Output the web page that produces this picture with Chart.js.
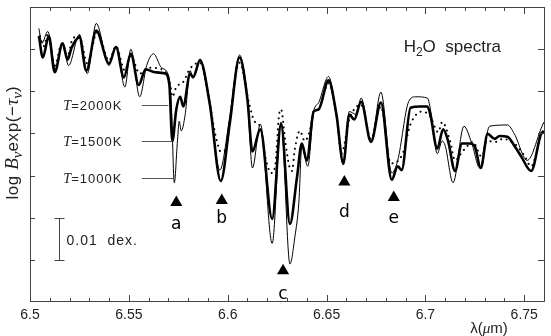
<!DOCTYPE html>
<html><head><meta charset="utf-8">
<script src="https://cdn.jsdelivr.net/npm/chart.js@4/dist/chart.umd.min.js"></script>
<style>html,body{margin:0;padding:0;background:#fff;overflow:hidden}#wrap{width:551px;height:336px}</style>
</head><body><div id="wrap"><canvas id="c" width="551" height="336"></canvas></div>
<script>
// wavelength (micron) , log B exp(-tau) in units of 0.01 dex (arbitrary zero)
const spectrum1000K = [[6.5045,6.49],[6.506,6.14],[6.509,6.42],[6.513,5.52],[6.5165,6.14],[6.5195,5.61],[6.525,6.35],[6.529,5.42],[6.5335,6.61],[6.54,5.61],[6.5435,6.07],[6.548,5.10],[6.551,6.00],[6.5555,4.87],[6.559,5.61],[6.5625,5.89],[6.5665,5.56],[6.57,5.38],[6.5715,4.68],[6.573,2.83],[6.5745,3.76],[6.5755,4.29],[6.5765,4.06],[6.5785,4.45],[6.581,5.49],[6.5825,5.33],[6.586,5.77],[6.591,4.68],[6.596,3.13],[6.601,4.38],[6.606,5.86],[6.61,4.80],[6.6125,3.18],[6.6165,4.22],[6.6225,1.39],[6.627,4.27],[6.6315,0.90],[6.634,1.55],[6.636,2.36],[6.6375,3.69],[6.6405,3.22],[6.6435,4.52],[6.646,4.73],[6.651,5.35],[6.655,4.45],[6.6585,3.25],[6.6615,4.52],[6.665,4.45],[6.6675,4.84],[6.6725,3.80],[6.6775,4.98],[6.683,3.06],[6.686,3.36],[6.6915,4.75],[6.695,4.87],[6.701,4.84],[6.703,4.45],[6.706,3.52],[6.7085,3.82],[6.71,3.71],[6.714,2.83],[6.7195,4.17],[6.7235,3.76],[6.7275,3.18],[6.7325,4.17],[6.7415,4.20],[6.745,3.99],[6.7515,3.36],[6.759,4.17],[6.76,4.27]];
const spectrum1500K = [[6.5045,6.31],[6.5065,5.80],[6.5095,6.31],[6.5125,5.45],[6.5165,6.14],[6.519,5.75],[6.521,6.03],[6.525,6.28],[6.5285,5.49],[6.5335,6.44],[6.54,5.66],[6.5435,6.05],[6.5475,5.33],[6.551,5.89],[6.555,5.15],[6.5585,5.52],[6.5635,5.45],[6.5685,5.42],[6.5705,5.15],[6.572,3.82],[6.574,4.57],[6.576,4.87],[6.5775,4.64],[6.581,5.42],[6.5825,5.33],[6.586,5.73],[6.591,4.68],[6.5965,2.87],[6.601,4.22],[6.606,5.80],[6.61,4.80],[6.6125,3.57],[6.6165,4.10],[6.6225,1.97],[6.627,4.22],[6.6315,1.85],[6.635,2.94],[6.6375,3.76],[6.64,3.36],[6.6435,4.52],[6.646,4.57],[6.651,5.26],[6.655,4.45],[6.6585,3.29],[6.6615,4.45],[6.664,4.33],[6.6675,4.75],[6.6725,3.80],[6.6775,4.73],[6.683,2.90],[6.686,3.22],[6.688,3.13],[6.6925,4.61],[6.6975,4.64],[6.701,4.64],[6.7025,4.45],[6.706,3.64],[6.709,4.10],[6.7115,3.82],[6.715,3.11],[6.7185,3.76],[6.7225,3.76],[6.725,3.69],[6.728,3.18],[6.7315,3.99],[6.735,3.87],[6.7375,3.94],[6.7415,3.92],[6.745,3.71],[6.7485,3.45],[6.7535,3.11],[6.7585,3.99],[6.76,4.06]];
const spectrum2000K = [[6.505,6.31],[6.507,6.07],[6.509,6.35],[6.5125,5.61],[6.516,6.12],[6.519,5.84],[6.5215,6.24],[6.525,6.31],[6.529,5.66],[6.534,6.40],[6.54,5.73],[6.5435,6.07],[6.548,5.49],[6.551,5.84],[6.5555,5.42],[6.56,5.56],[6.565,5.54],[6.569,5.42],[6.571,5.15],[6.572,4.87],[6.574,5.10],[6.5775,5.22],[6.581,5.54],[6.586,5.68],[6.59,4.98],[6.5925,4.29],[6.5945,3.82],[6.5965,3.57],[6.5985,3.59],[6.6,3.82],[6.601,4.29],[6.606,5.68],[6.611,4.68],[6.6135,4.29],[6.6165,4.15],[6.619,3.45],[6.622,3.06],[6.624,3.22],[6.626,4.45],[6.627,4.57],[6.629,3.87],[6.631,3.25],[6.6325,3.11],[6.634,3.64],[6.6365,4.06],[6.639,3.82],[6.6415,4.06],[6.6435,4.52],[6.646,4.57],[6.651,5.19],[6.655,4.45],[6.6575,3.52],[6.6615,4.33],[6.6675,4.68],[6.6725,3.87],[6.6775,4.64],[6.6825,3.29],[6.6885,3.52],[6.6925,4.22],[6.6985,4.52],[6.7025,4.40],[6.7065,4.03],[6.7085,4.27],[6.7125,3.82],[6.715,3.36],[6.718,3.52],[6.721,3.69],[6.724,3.80],[6.7285,3.45],[6.731,3.82],[6.736,3.80],[6.739,3.87],[6.745,3.76],[6.75,3.48],[6.7535,3.22],[6.7585,3.94],[6.76,4.03]];

const seriesTemps = ['2000K','1500K','1000K'];
const legendValue = [4.68, 3.82, 2.94];          // level of each T label
const legendLineEnd = [6.570, 6.572, 6.573];     // wavelength where the pointer line meets the curve
const legendLineStart = 6.5565;

const markerLetters = ['a','b','c','d','e'];
const markerLambda = [6.574, 6.597, 6.628, 6.659, 6.684];
const markerValue  = [2.36, 2.41, 0.74, 2.85, 2.48];

const xMin = 6.5, xMax = 6.76, xStep = 0.01;
const xLabelTicks = ['6.5','6.55','6.6','6.65','6.7','6.75'];
const yMin = 0, yMax = 7, yStep = 1;
const scaleBarLambda = 6.5145, scaleBarFrom = 1, scaleBarTo = 2;

const toXY = arr => arr.map(p => ({x: p[0], y: p[1]}));

function drawRich(ctx, segs, x, y, align) {
  let w = 0;
  segs.forEach(s => { ctx.font = s.f; ctx.letterSpacing = s.ls || '0px'; s.w = ctx.measureText(s.t).width; w += s.w; });
  let cx = align === 'center' ? x - w / 2 : (align === 'right' ? x - w : x);
  segs.forEach(s => {
    ctx.font = s.f; ctx.letterSpacing = s.ls || '0px';
    ctx.fillText(s.t, cx, y + (s.dy || 0));
    cx += s.w;
  });
  ctx.letterSpacing = '0px';
}

const SANS = 'Liberation Sans, Arial, sans-serif';
const SERIF = 'Liberation Serif, Times New Roman, serif';

const decor = {
  id: 'decor',
  afterDatasetsDraw(chart) {
    const {ctx, chartArea: a, scales: {x, y}} = chart;
    ctx.save();
    ctx.strokeStyle = '#444'; ctx.lineWidth = 1;
    ctx.strokeRect(a.left + 0.5, a.top + 0.5, a.right - a.left, a.bottom - a.top - 1);
    // x ticks (inward, top and bottom)
    x.ticks.forEach(t => {
      const px = Math.round(x.getPixelForValue(t.value)) + 0.5;
      const major = Math.abs(t.value * 20 - Math.round(t.value * 20)) < 1e-6;
      const len = major ? 7 : 4;
      ctx.beginPath();
      ctx.moveTo(px, a.bottom); ctx.lineTo(px, a.bottom - len);
      ctx.moveTo(px, a.top); ctx.lineTo(px, a.top + len);
      ctx.stroke();
    });
    // y ticks (inward, left and right)
    for (let v = yMin + yStep; v < yMax; v += yStep) {
      const py = Math.round(y.getPixelForValue(v)) + 0.5;
      ctx.beginPath();
      ctx.moveTo(a.left, py); ctx.lineTo(a.left + 5, py);
      ctx.moveTo(a.right, py); ctx.lineTo(a.right - 6, py);
      ctx.stroke();
    }
    ctx.fillStyle = '#222';
    ctx.textBaseline = 'alphabetic';
    // H2O spectra
    drawRich(ctx, [
      {t: 'H', f: '17px ' + SANS},
      {t: '2', f: '12px ' + SANS, dy: 4},
      {t: 'O  spectra', f: '17px ' + SANS}
    ], x.getPixelForValue(6.689), y.getPixelForValue(5.93), 'left');
    // temperature labels + pointer lines
    seriesTemps.forEach((T, i) => {
      const py = y.getPixelForValue(legendValue[i]);
      drawRich(ctx, [
        {t: 'T', f: 'italic 14px ' + SERIF},
        {t: '=' + T, f: '13px ' + SANS, ls: '1px'}
      ], x.getPixelForValue(6.5467), py + 5, 'right');
      ctx.strokeStyle = '#555';
      ctx.beginPath();
      ctx.moveTo(x.getPixelForValue(legendLineStart), Math.round(py) + 0.5);
      ctx.lineTo(x.getPixelForValue(legendLineEnd[i]), Math.round(py) + 0.5);
      ctx.stroke();
    });
    // marker letters
    const letterOffset = [26, 23, 28, 35, 26];
    ctx.fillStyle = '#000';
    ctx.textAlign = 'center';
    ctx.font = '17px DejaVu Sans, sans-serif';
    markerLetters.forEach((L, i) => {
      ctx.fillText(L, x.getPixelForValue(markerLambda[i]), y.getPixelForValue(markerValue[i]) + letterOffset[i]);
    });
    ctx.textAlign = 'left';
    // scale bar 0.01 dex
    ctx.strokeStyle = '#444';
    const bx = Math.round(x.getPixelForValue(scaleBarLambda)) + 0.5;
    const by1 = Math.round(y.getPixelForValue(scaleBarFrom)) + 0.5;
    const by2 = Math.round(y.getPixelForValue(scaleBarTo)) + 0.5;
    ctx.beginPath();
    ctx.moveTo(bx, by1); ctx.lineTo(bx, by2);
    ctx.moveTo(bx - 5, by1); ctx.lineTo(bx + 5, by1);
    ctx.moveTo(bx - 5, by2); ctx.lineTo(bx + 5, by2);
    ctx.stroke();
    ctx.fillStyle = '#222';
    drawRich(ctx, [{t: '0.01  dex.', f: '14px ' + SANS, ls: '1px'}], bx + 7, (by1 + by2) / 2 + 5, 'left');
    // x title
    drawRich(ctx, [
      {t: 'λ(', f: '15px ' + SANS},
      {t: 'μ', f: 'italic 15px ' + SERIF},
      {t: 'm)', f: '15px ' + SANS}
    ], 489, 333, 'center');
    // y title
    ctx.save();
    ctx.translate(18, 143);
    ctx.rotate(-Math.PI / 2);
    drawRich(ctx, [
      {t: 'log ', f: '17px ' + SANS, ls: '0.6px'},
      {t: 'B', f: 'italic 19px ' + SERIF},
      {t: 'ν', f: 'italic 15px ' + SERIF, dy: 4},
      {t: 'exp(−', f: '17px ' + SANS, ls: '0.6px'},
      {t: 'τ', f: 'italic 19px ' + SERIF},
      {t: 'ν', f: 'italic 15px ' + SERIF, dy: 4},
      {t: ')', f: '17px ' + SANS}
    ], 0, 0, 'center');
    ctx.restore();
    ctx.restore();
  }
};

new Chart(document.getElementById('c'), {
  type: 'line',
  data: {
    datasets: [
      {label: 'T=2000K', data: toXY(spectrum2000K), borderColor: '#000', borderWidth: 2, borderDash: [0.1, 5.5], borderCapStyle: 'round', pointRadius: 0, cubicInterpolationMode: 'monotone', fill: false},
      {label: 'T=1000K', data: toXY(spectrum1000K), borderColor: '#000', borderWidth: 1, pointRadius: 0, cubicInterpolationMode: 'monotone', fill: false},
      {label: 'T=1500K', data: toXY(spectrum1500K), borderColor: '#000', borderWidth: 2.6, pointRadius: 0, cubicInterpolationMode: 'monotone', fill: false},
      {type: 'scatter', label: 'lines', data: markerLambda.map((l, i) => ({x: l, y: markerValue[i]})), pointStyle: 'triangle', pointRadius: 7, backgroundColor: '#000', borderColor: '#000', borderWidth: 0}
    ]
  },
  options: {
    responsive: false,
    devicePixelRatio: 1,
    animation: false,
    layout: {padding: {top: 0, right: 1, bottom: 0, left: 0}},
    plugins: {legend: {display: false}, tooltip: {enabled: false}},
    scales: {
      x: {
        type: 'linear', min: xMin, max: xMax,
        grid: {display: false, drawTicks: false}, border: {display: false},
        ticks: {
          stepSize: xStep, autoSkip: false, maxRotation: 0, minRotation: 0, padding: 5,
          color: '#222', font: {family: SANS, size: 14},
          callback: v => {
            const k = Math.round(v * 20);
            if (Math.abs(v * 20 - k) < 1e-6) { const s = (k / 20).toString(); return xLabelTicks.includes(s) ? s : ''; }
            return '';
          }
        },
        afterFit: s => { s.height = 34; }
      },
      y: {
        min: yMin, max: yMax,
        grid: {display: false, drawTicks: false}, border: {display: false},
        ticks: {display: false, stepSize: yStep},
        afterFit: s => { s.width = 30; }
      }
    }
  },
  plugins: [decor]
});
</script>
</body></html>
